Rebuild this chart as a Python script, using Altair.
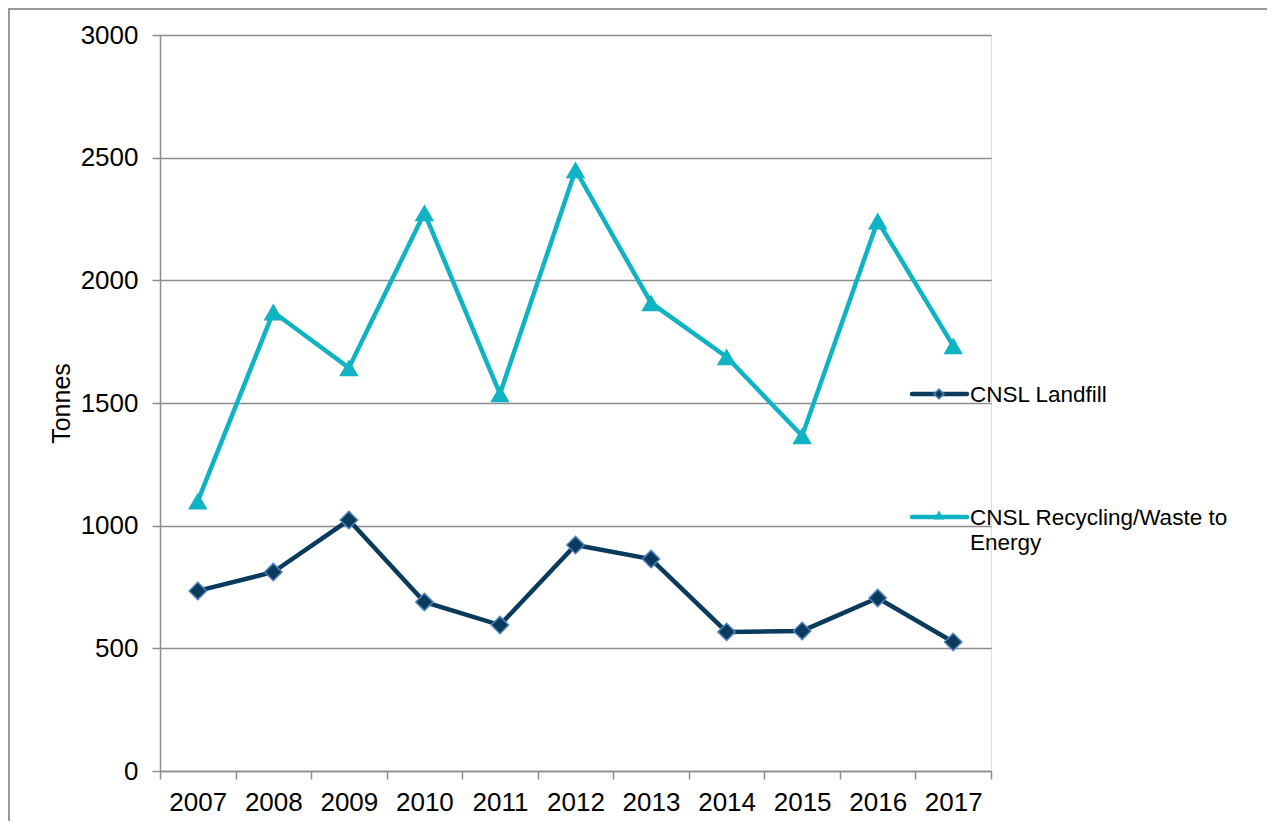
import altair as alt
import pandas as pd

years = ["2007", "2008", "2009", "2010", "2011", "2012", "2013", "2014", "2015", "2016", "2017"]
landfill = [734, 811, 1023, 689, 595, 921, 864, 567, 571, 705, 526]
recycling = [1100, 1871, 1643, 2275, 1537, 2450, 1908, 1688, 1366, 2242, 1733]
y_ticks = [0, 500, 1000, 1500, 2000, 2500, 3000]
series_names = ["CNSL Landfill", "CNSL Recycling/Waste to Energy"]

FONT = "Liberation Sans"
GRAY = "#8c8c8c"
NAVY = "#0a3a5c"
NAVY_EDGE = "#4f81bd"
TEAL = "#0fb3c3"

df_l = pd.DataFrame({"year": years, "value": landfill, "series": series_names[0]})
df_r = pd.DataFrame({"year": years, "value": recycling, "series": series_names[1]})

x_enc = alt.X(
    "year:O",
    scale=alt.Scale(type="band", paddingInner=0, paddingOuter=0),
    axis=alt.Axis(
        title=None, labelAngle=0, tickBand="extent", grid=False,
        domainColor=GRAY, domainWidth=1.5, tickColor=GRAY, tickWidth=1.5, tickSize=8,
        labelFontSize=26, labelFont=FONT, labelColor="#000000", labelPadding=10,
    ),
)
y_enc = alt.Y(
    "value:Q",
    scale=alt.Scale(domain=[0, 3000], nice=False),
    axis=alt.Axis(
        values=y_ticks, format="d", title="Tonnes", grid=True, gridColor=GRAY, gridWidth=1.5,
        domainColor=GRAY, domainWidth=1.5, tickColor=GRAY, tickWidth=1.5, tickSize=8,
        labelFontSize=26, labelFont=FONT, labelColor="#000000", labelPadding=14,
        titleFontSize=25, titleFont=FONT, titleFontWeight="normal", titleColor="#000000",
        titlePadding=6,
    ),
)

line_l = alt.Chart(df_l).mark_line(color=NAVY, strokeWidth=4.5).encode(x=x_enc, y=y_enc)
pts_l = alt.Chart(df_l).mark_point(
    shape="diamond", filled=True, fill=NAVY, stroke=NAVY_EDGE, strokeWidth=1.5, size=300, opacity=1
).encode(x=x_enc, y=y_enc)

line_r = alt.Chart(df_r).mark_line(color=TEAL, strokeWidth=4.5).encode(x=x_enc, y=y_enc)
pts_r = alt.Chart(df_r).mark_point(
    shape="triangle-up", filled=True, fill=TEAL, size=380, opacity=1
).encode(x=x_enc, y=y_enc)

# custom legend
leg = pd.DataFrame({"series": series_names})
leg_l = leg[leg.series == series_names[0]]
leg_r = leg[leg.series == series_names[1]]

leg_line_l = alt.Chart(leg_l).mark_rule(color=NAVY, strokeWidth=4.5, strokeCap="round").encode(
    x=alt.value(752), x2=alt.value(807), y=alt.value(359))
leg_pt_l = alt.Chart(leg_l).mark_point(
    shape="diamond", filled=True, fill=NAVY, stroke=NAVY_EDGE, strokeWidth=1.5, size=100, opacity=1
).encode(x=alt.value(779), y=alt.value(359))
leg_txt_l = alt.Chart(leg_l).mark_text(
    align="left", baseline="middle", font=FONT, fontSize=22.5, color="#000000"
).encode(x=alt.value(810), y=alt.value(360), text="series:N")

leg_line_r = alt.Chart(leg_r).mark_rule(color=TEAL, strokeWidth=4.5, strokeCap="round").encode(
    x=alt.value(752), x2=alt.value(807), y=alt.value(482))
leg_pt_r = alt.Chart(leg_r).mark_point(
    shape="triangle-up", filled=True, fill=TEAL, size=110, opacity=1
).encode(x=alt.value(779), y=alt.value(480))
leg_txt_r1 = alt.Chart(leg_r).mark_text(
    align="left", baseline="middle", font=FONT, fontSize=22.5, color="#000000"
).encode(x=alt.value(810), y=alt.value(483), text=alt.value("CNSL Recycling/Waste to"))
leg_txt_r2 = alt.Chart(leg_r).mark_text(
    align="left", baseline="middle", font=FONT, fontSize=22.5, color="#000000"
).encode(x=alt.value(810), y=alt.value(508), text=alt.value("Energy"))

# outer frame (top and left edges)
frame_top = alt.Chart(leg_l).mark_rule(color="#999999", strokeWidth=2).encode(
    x=alt.value(-152), x2=alt.value(1120), y=alt.value(-26))
frame_left = alt.Chart(leg_l).mark_rule(color="#999999", strokeWidth=2).encode(
    x=alt.value(-151), y=alt.value(-26), y2=alt.value(800))

chart = alt.layer(
    frame_top, frame_left,
    line_r, pts_r, line_l, pts_l,
    leg_line_l, leg_pt_l, leg_txt_l,
    leg_line_r, leg_pt_r, leg_txt_r1, leg_txt_r2,
).properties(
    width=831, height=736,
    autosize=alt.AutoSizeParams(type="none"),
    padding={"left": 152, "top": 27, "right": 276, "bottom": 50},
).configure_view(stroke=None).configure(background="white")

chart.save("out.html", embed_options={"renderer": "svg", "actions": False})
